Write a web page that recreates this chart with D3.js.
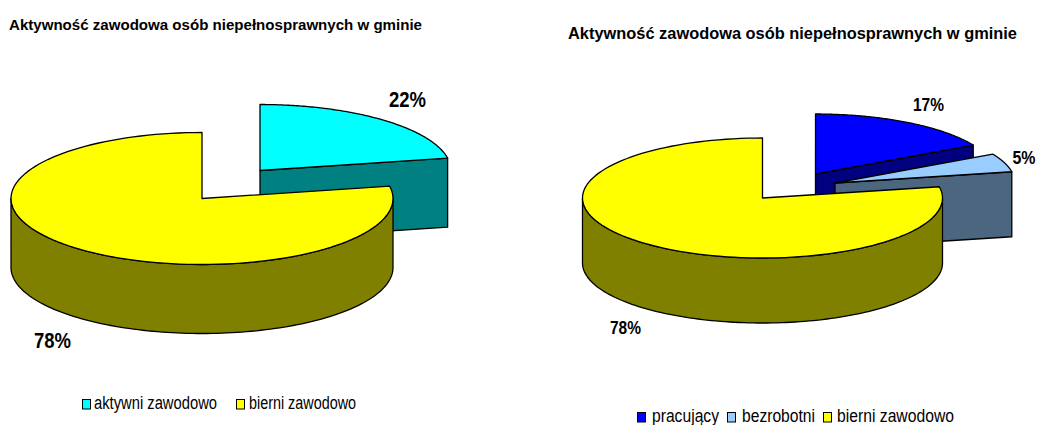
<!DOCTYPE html>
<html><head><meta charset="utf-8">
<script src="https://cdn.jsdelivr.net/npm/d3@7"></script>
<style>html,body{margin:0;padding:0;background:#fff}svg{display:block}text{font-family:"Liberation Sans",Arial,sans-serif;fill:#000}</style>
</head><body><svg id="c" width="1037" height="425"></svg>
<script>
const chartTitle = "Aktywność zawodowa osób niepełnosprawnych w gminie";
const leftCategories = ["aktywni zawodowo", "bierni zawodowo"];
const leftValues = [22, 78];
const leftColors = ["#00FFFF", "#FFFF00"];
const leftWalls = ["#008080", "#808000"];
const rightCategories = ["pracujący", "bezrobotni", "bierni zawodowo"];
const rightValues = [17, 5, 78];
const rightColors = ["#0000FF", "#99CCFF", "#FFFF00"];
const rightWalls = ["#000080", "#4C6680", "#808000"];

const svg = d3.select("#c");

function pie3d(o){
  const arcs = d3.pie().sort(null).startAngle(0).endAngle(2*Math.PI)(o.values);
  const g = svg.append("g");
  const px = (c,a)=>c.x + o.rx*Math.sin(a);
  const py = (c,a)=>c.y - o.ry*Math.cos(a);
  const line = d3.line();
  const sample = (a0,a1)=>d3.range(0,121).map(i=>a0+(a1-a0)*i/120);
  arcs.forEach((d,i)=>{
    const c = {x:o.cx+o.offsets[i][0], y:o.cy+o.offsets[i][1]};
    const sg = g.append("g").attr("stroke","#000").attr("stroke-width",1.3).attr("stroke-linejoin","round");
    const a0 = Math.max(d.startAngle, Math.PI/2), a1 = Math.min(d.endAngle, 1.5*Math.PI);
    if(a1>a0){
      const up = sample(a0,a1).map(a=>[px(c,a),py(c,a)]);
      const dn = sample(a1,a0).map(a=>[px(c,a),py(c,a)+o.depth]);
      sg.append("path").attr("d",line(up.concat(dn))+"Z").attr("fill",o.walls[i]);
    }
    if(d.endAngle<Math.PI){
      const e=[px(c,d.endAngle),py(c,d.endAngle)];
      sg.append("path").attr("d",line([[c.x,c.y],e,[e[0],e[1]+o.depth],[c.x,c.y+o.depth]])+"Z").attr("fill",o.walls[i]);
    }
    const top=[[c.x,c.y]].concat(sample(d.startAngle,d.endAngle).map(a=>[px(c,a),py(c,a)]));
    sg.append("path").attr("d",line(top)+"Z").attr("fill",o.colors[i]);
  });
  svg.append("text").attr("x",o.titleX).attr("y",o.titleY).attr("font-size",o.titleSize).attr("font-weight","bold")
    .attr("textLength",o.titleLen).attr("lengthAdjust","spacingAndGlyphs").text(chartTitle);
  arcs.forEach((d,i)=>{
    const l=o.labels[i];
    svg.append("text").attr("x",l[0]).attr("y",l[1]).attr("font-size",o.labelSize).attr("font-weight","bold")
      .attr("textLength",l[2]).attr("lengthAdjust","spacingAndGlyphs")
      .text(Math.round(d.data)+"%");
  });
  o.categories.forEach((t,i)=>{
    const l=o.legend[i];
    svg.append("rect").attr("x",l[0]+.5).attr("y",o.legendY-9.5).attr("width",8).attr("height",9.5)
      .attr("fill",o.colors[i]).attr("stroke","#000").attr("stroke-width",1);
    svg.append("text").attr("x",l[1]).attr("y",o.legendY).attr("font-size",o.legendSize)
      .attr("textLength",l[2]).attr("lengthAdjust","spacingAndGlyphs").attr("fill","#111").text(t);
  });
}

pie3d({values:leftValues,colors:leftColors,walls:leftWalls,categories:leftCategories,
  cx:202,cy:198.5,rx:191,ry:66,depth:69,offsets:[[58,-28],[0,0]],
  titleX:9,titleY:30,titleSize:15.5,titleLen:413,
  labels:[[389,107,37],[34,348,37]],labelSize:22,
  legend:[[82,94,123],[236,249,107]],legendY:409,legendSize:18});

pie3d({values:rightValues,colors:rightColors,walls:rightWalls,categories:rightCategories,
  cx:762.5,cy:198,rx:180,ry:60,depth:65,offsets:[[53,-24],[72.5,-15],[0,0]],
  titleX:568,titleY:38.5,titleSize:17,titleLen:449,
  labels:[[913,111,31],[1012.5,164,23],[610,334,31]],labelSize:17.5,
  legend:[[637,652,67],[727,742,73],[823,837,117]],legendY:422,legendSize:17.5});
</script></body></html>
